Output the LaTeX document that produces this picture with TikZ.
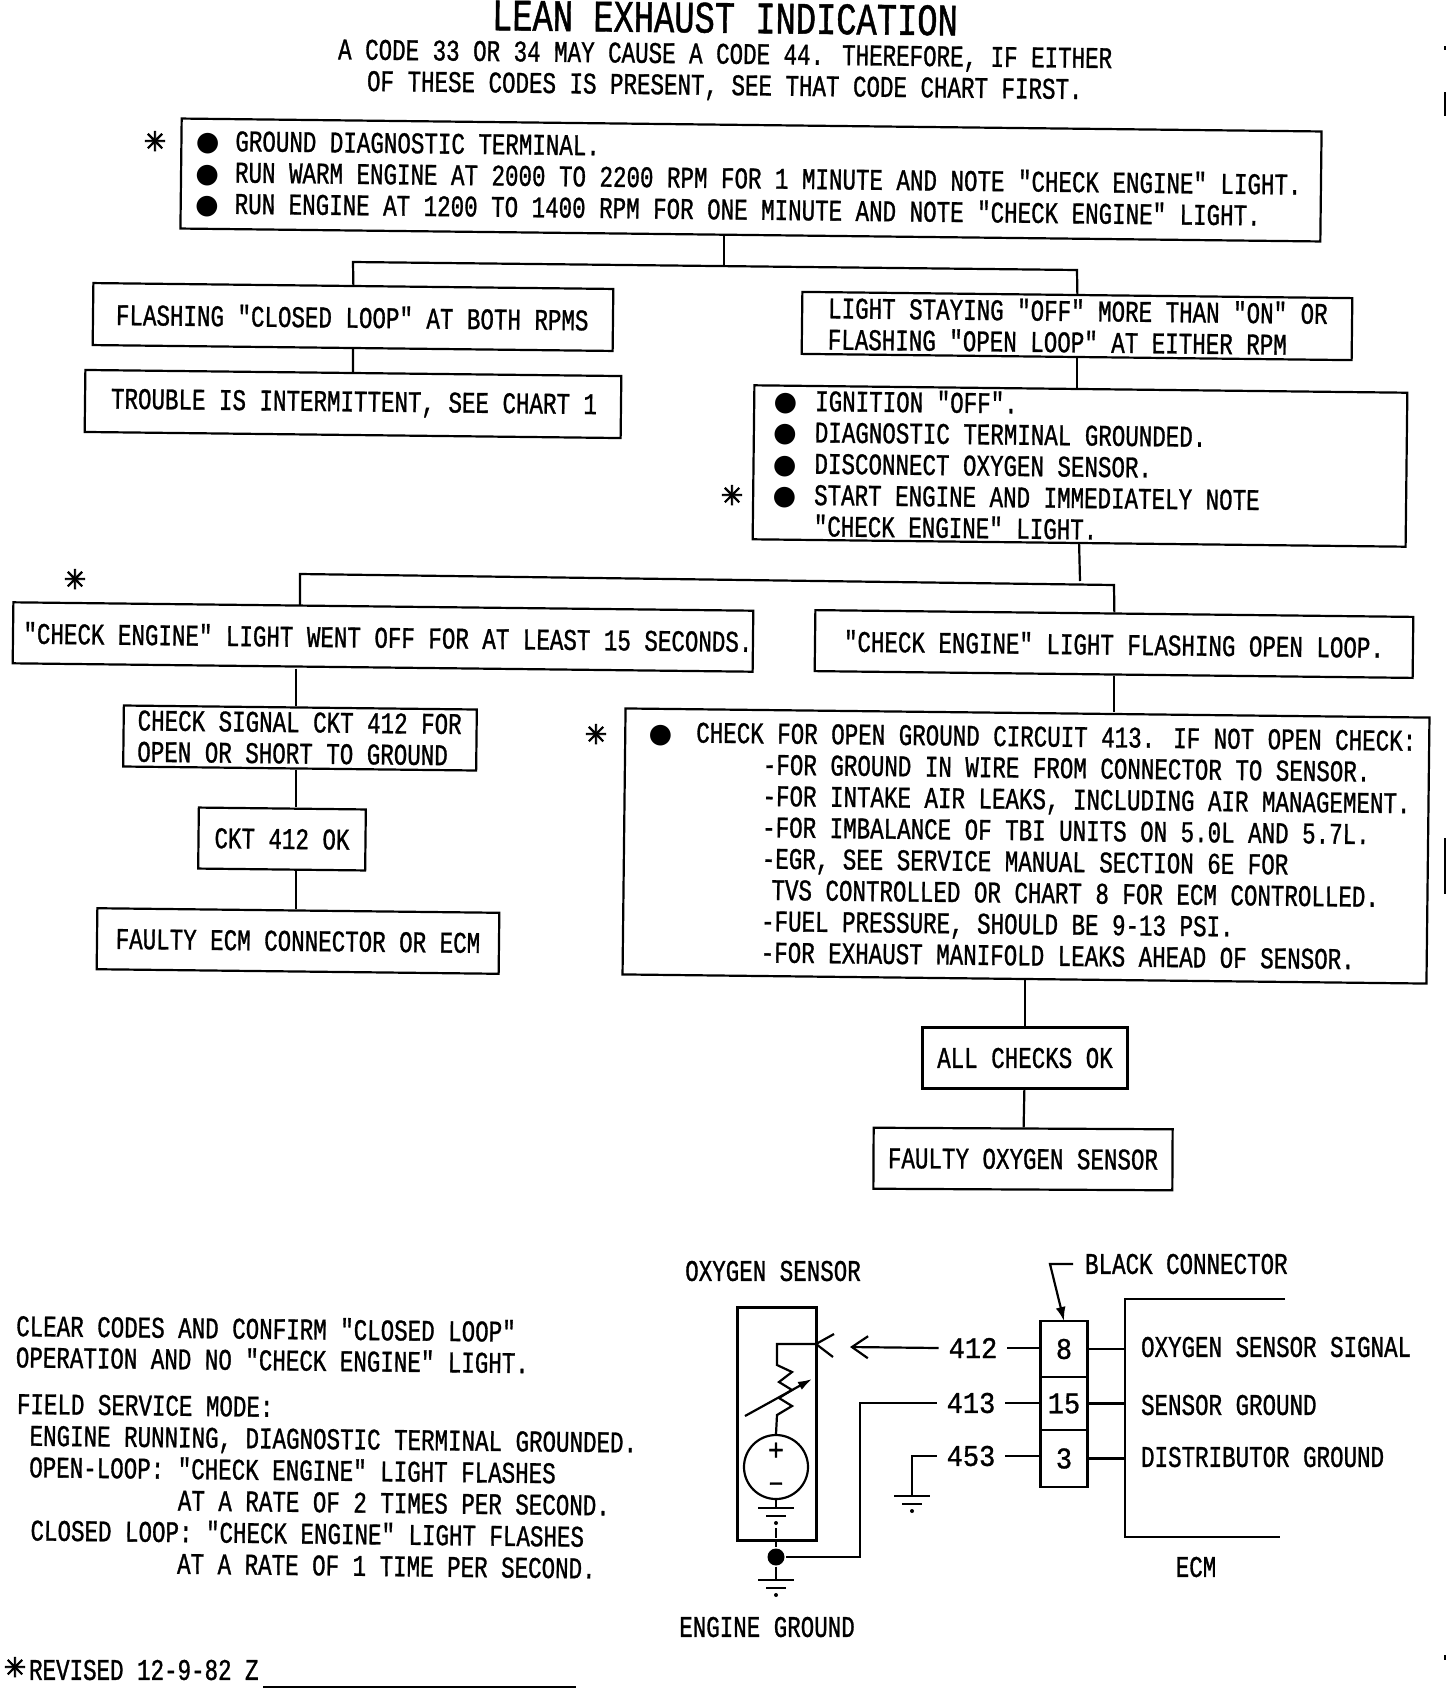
\documentclass[tikz,border=0pt]{standalone}
\usepackage{fontspec}
\usepackage{tikz}
\usetikzlibrary{positioning, arrows.meta, calc}
\newfontfamily\plainfont[FakeStretch=0.75, FakeBold=1]{Liberation Mono}
\newfontfamily\numfont[FakeStretch=0.9, FakeBold=1]{Liberation Mono}
\newfontfamily\symfont{DejaVu Sans}
\newfontfamily\markfont[FakeBold=3]{DejaVu Sans}
\newcommand{\plotfont}{\plainfont\fontsize{30}{31.3}\selectfont}
\newcommand{\bul}[1][16pt]{\leavevmode\llap{{\symfont\fontsize{27}{27}\selectfont ●}\hspace{#1}}}

\begin{document}
\begin{tikzpicture}[
  x=1pt, y=-1pt, line width=2.2pt,
  every node/.style={font=\plotfont, inner sep=0pt},
  tilt/.style={rotate=-0.65},
  box/.style={draw, tilt, align=flush left, inner xsep=10pt, inner ysep=0pt},
  mid/.style={draw, tilt, align=center, minimum height=61pt},
  pad/.style={execute at begin node={\leftskip=#1\relax}},
  note/.style={tilt, anchor=west, align=left},
  ecmlabel/.style={anchor=west},
  wirenum/.style={font=\numfont\fontsize{30}{31.3}\selectfont, inner xsep=9pt, inner ysep=4pt},
  pin/.style={draw, outer sep=0pt, font=\numfont\fontsize{30}{31.3}\selectfont, minimum width=47pt},
  revmark/.style={font=\markfont\fontsize{27}{27}\selectfont},
  speck/.style={line width=1.6pt},
  gnd/.pic={
    \draw (-18,0) -- (18,0);
    \draw (-10,8) -- (10,8);
    \fill (0,15) circle (2pt);
  },
]
  \useasboundingbox (0,0) rectangle (1456,1690);

  \node[tilt, font=\plainfont\fontsize{45}{45}\selectfont] (title) at (725,18) {LEAN EXHAUST INDICATION};
  \node[tilt, align=center] (intro) at (725,72) {A CODE 33 OR 34 MAY CAUSE A CODE 44. THEREFORE, IF EITHER\\OF THESE CODES IS PRESENT, SEE THAT CODE CHART FIRST.};

  \node[box, text width=1120pt, minimum height=110pt, pad=44pt] (ground) at (751,180) {\bul GROUND DIAGNOSTIC TERMINAL.\\\bul RUN WARM ENGINE AT 2000 TO 2200 RPM FOR 1 MINUTE AND NOTE "CHECK ENGINE" LIGHT.\\\bul RUN ENGINE AT 1200 TO 1400 RPM FOR ONE MINUTE AND NOTE "CHECK ENGINE" LIGHT.};
  \node[box, text width=500pt, minimum height=62pt, pad=13pt] (flash) at (353,317) {FLASHING "CLOSED LOOP" AT BOTH RPMS};
  \node[box, text width=530pt, minimum height=62pt, pad=16pt] (stay) at (1077,326) {LIGHT STAYING "OFF" MORE THAN "ON" OR\\FLASHING "OPEN LOOP" AT EITHER RPM};
  \node[box, text width=516pt, minimum height=62pt, pad=16pt] (trouble) at (353,404) {TROUBLE IS INTERMITTENT, SEE CHART 1};
  \node[box, text width=633pt, minimum height=154pt, pad=51pt] (ignition) at (1080,466) {\bul[18pt]IGNITION "OFF".\\\bul[18pt]DIAGNOSTIC TERMINAL GROUNDED.\\\bul[18pt]DISCONNECT OXYGEN SENSOR.\\\bul[18pt]START ENGINE AND IMMEDIATELY NOTE\\"CHECK ENGINE" LIGHT.};
  \node[mid, minimum width=740pt] (wentoff) at (383,637) {\hspace*{10pt}"CHECK ENGINE" LIGHT WENT OFF FOR AT LEAST 15 SECONDS.};
  \node[mid, minimum width=598pt] (openloop) at (1114,644) {"CHECK ENGINE" LIGHT FLASHING OPEN LOOP.};
  \node[box, text width=333pt, minimum height=61pt, pad=4pt] (signal) at (300,738) {CHECK SIGNAL CKT 412 FOR\\OPEN OR SHORT TO GROUND};
  \node[mid, minimum width=167pt] (cktok) at (282,839) {CKT 412 OK};
  \node[mid, minimum width=402pt] (faultyecm) at (298,941) {FAULTY ECM CONNECTOR OR ECM};
  \node[box, text width=784pt, minimum height=266pt, pad=61pt] (checks) at (1026,846) {\bul[24pt]CHECK FOR OPEN GROUND CIRCUIT 413. IF NOT OPEN CHECK:\\
    \hspace*{67pt}-FOR GROUND IN WIRE FROM CONNECTOR TO SENSOR.\\
    \hspace*{67pt}-FOR INTAKE AIR LEAKS, INCLUDING AIR MANAGEMENT.\\
    \hspace*{67pt}-FOR IMBALANCE OF TBI UNITS ON 5.0L AND 5.7L.\\
    \hspace*{67pt}-EGR, SEE SERVICE MANUAL SECTION 6E FOR\\
    \hspace*{77pt}TVS CONTROLLED OR CHART 8 FOR ECM CONTROLLED.\\
    \hspace*{67pt}-FUEL PRESSURE, SHOULD BE 9-13 PSI.\\
    \hspace*{67pt}-FOR EXHAUST MANIFOLD LEAKS AHEAD OF SENSOR.};
  \node[mid, minimum width=205pt, rotate=0.65] (allok) at (1025,1058) {ALL CHECKS OK};
  \node[mid, minimum width=299pt, rotate=0.35] (faultyo2) at (1023,1159) {FAULTY OXYGEN SENSOR};

  \node[revmark] (mark1) at (155,141) {✳};
  \node[revmark] (mark2) at (732,495) {✳};
  \node[revmark] (mark3) at (75,579) {✳};
  \node[revmark] (mark4) at (596,734) {✳};

  \coordinate (splitl) at (353,262);
  \coordinate (splitr) at (1077,270);
  \coordinate (splitm) at (724,266);
  \coordinate (forkl) at (300,574);
  \coordinate (forkr) at (1114,585);
  \coordinate (forkm) at (1080,581);
  \coordinate (spine) at (296,0);
  \draw (flash.north) -- (splitl) -- (splitr) -- (stay.north);
  \draw (splitm) -- (splitm |- ground.south);
  \draw (flash) -- (trouble);
  \draw (stay.south) -- (stay.south |- ignition.north);
  \draw (ignition.south) -- (forkm);
  \draw (forkl |- wentoff.north) -- (forkl) -- (forkr) -- (openloop.north);
  \draw (spine |- wentoff.south) -- (spine |- signal.north);
  \draw (spine |- signal.south) -- (spine |- cktok.north);
  \draw (spine |- cktok.south) -- (spine |- faultyecm.north);
  \draw (openloop.south) -- (openloop.south |- checks.north);
  \draw (allok.north |- checks.south) -- (allok.north);
  \draw (allok) -- (faultyo2);

  \node[note] (clear) at (15,1341) {CLEAR CODES AND CONFIRM "CLOSED LOOP"\\OPERATION AND NO "CHECK ENGINE" LIGHT.};
  \node[note, font=\plainfont\fontsize{30}{31.6}\selectfont] (field) at (15,1483) {FIELD SERVICE MODE:\\
    \hspace*{13pt}ENGINE RUNNING, DIAGNOSTIC TERMINAL GROUNDED.\\
    \hspace*{13pt}OPEN-LOOP: "CHECK ENGINE" LIGHT FLASHES\\
    \hspace*{162pt}AT A RATE OF 2 TIMES PER SECOND.\\
    \hspace*{15pt}CLOSED LOOP: "CHECK ENGINE" LIGHT FLASHES\\
    \hspace*{162pt}AT A RATE OF 1 TIME PER SECOND.};
  \node[anchor=west] (revised) at (28,1670) {REVISED 12-9-82 Z};
  \node[revmark] (mark5) at (15,1667) {✳};
  \draw (263,1687) -- (576,1687);

  \node (o2label) at (773,1271) {OXYGEN SENSOR};
  \node[draw, minimum width=79pt, minimum height=233pt] (sensor) at (777,1424) {};
  \node[draw, circle, minimum size=64pt, align=center, font=\numfont\fontsize{30}{31.3}\selectfont] (cell) at (776,1467) {+\\–};
  \node[circle, fill=black, minimum size=17pt] (edot) at (776,1557) {};
  \node (enginegnd) at (767,1627) {ENGINE GROUND};

  \coordinate (sock) at (816,1344);
  \draw (sock) -- (777,1344) -- (777,1365) -- (792,1372) -- (779,1382) -- (792,1390) -- (779,1398) -- (792,1406) -- (777,1415) -- (cell.north);
  \draw[-{Latex[length=14pt,width=9pt]}] (745,1416) -- (812,1379);
  \draw (834,1334) -- (sock) -- (833,1357);
  \draw (cell.south) -- (776,1508);
  \draw pic at (776,1508) {gnd};
  \draw (776,1528) -- (776,1538);
  \draw (sensor.south -| edot) -- (edot);
  \draw (edot) -- (776,1580);
  \draw pic at (776,1580) {gnd};

  \node[pin, minimum height=56pt] (pin8) at (1064,1349) {8};
  \node[pin, minimum height=53pt, below=0pt of pin8] (pin15) {15};
  \node[pin, minimum height=57pt, below=0pt of pin15] (pin3) {3};
  \node[wirenum] (w412) at (973,1348) {412};
  \node[wirenum] (w413) at (971,1403) {413};
  \node[wirenum] (w453) at (971,1456) {453};
  \draw (w412) -- (w412 -| pin8.west);
  \draw (w413) -- (w413 -| pin15.west);
  \draw (w453) -- (w453 -| pin3.west);
  \draw[-{Straight Barb[length=16pt,width=22pt]}] (w412.west) -- (850,1347);
  \draw (w413.west) -| ($(edot)+(84,0)$) -- (edot);
  \draw (w453.west) -| (912,1496);
  \draw pic at (912,1496) {gnd};

  \node[anchor=west, inner xsep=11pt] (black) at (1073,1264) {BLACK CONNECTOR};
  \coordinate (leader) at (1050,1264);
  \draw[-{Latex[length=14pt,width=10pt]}] (black.west) -- (leader) -- (pin8.north);

  \coordinate (ecmedge) at (1125,1299);
  \draw (1285,1299) -- (ecmedge) -- (1125,1537) -- (1280,1537);
  \draw (pin8) -- (pin8 -| ecmedge);
  \draw (pin15) -- (pin15 -| ecmedge);
  \draw (pin3) -- (pin3 -| ecmedge);
  \node[ecmlabel] (o2signal) at (1140,1347) {OXYGEN SENSOR SIGNAL};
  \node[ecmlabel] (sensorgnd) at (1140,1405) {SENSOR GROUND};
  \node[ecmlabel] (distgnd) at (1140,1457) {DISTRIBUTOR GROUND};
  \node (ecm) at (1196,1567) {ECM};

  \draw[speck] (1445,46) -- (1445,50);
  \draw[speck] (1445,92) -- (1445,116);
  \draw[speck] (1445,838) -- (1445,894);
  \draw[speck] (1445,1655) -- (1445,1660);
\end{tikzpicture}
\end{document}
